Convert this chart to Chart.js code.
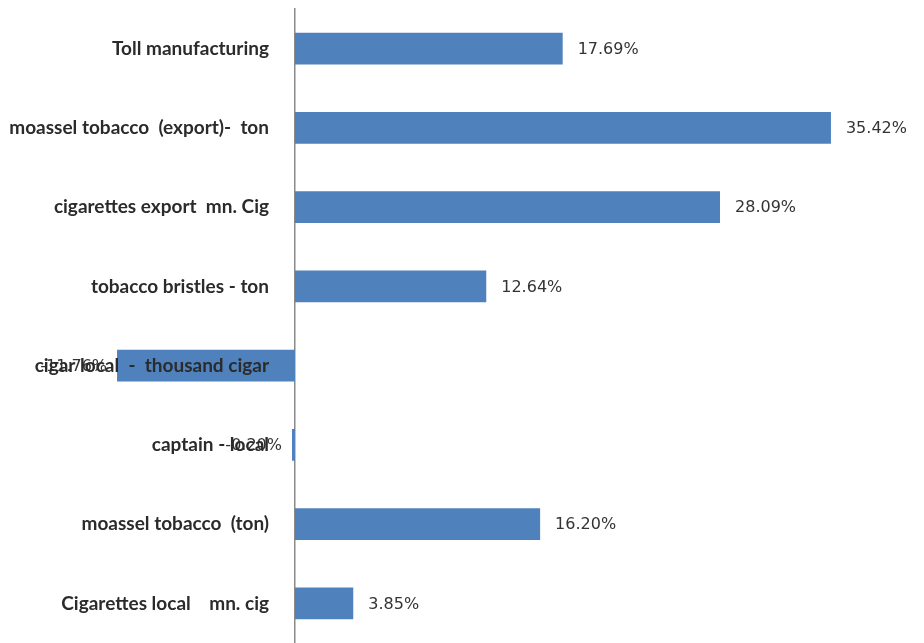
<!DOCTYPE html>
<html>
<head>
<meta charset="utf-8">
<script src="https://cdn.jsdelivr.net/npm/chart.js@4"></script>
<style>
  html, body { margin: 0; padding: 0; background: #fff; }
  #wrap { width: 924px; height: 643px; }
</style>
</head>
<body>
<div id="wrap"><canvas id="visualization" width="924" height="643"></canvas></div>
<script>
// categories, top to bottom
var categories = [
    'Toll manufacturing',
    'moassel tobacco  (export)-  ton',
    'cigarettes export  mn. Cig',
    'tobacco bristles - ton',
    'cigar local  -  thousand cigar',
    'captain - local',
    'moassel tobacco  (ton)',
    'Cigarettes local    mn. cig'
];
// share of each product, percent
var shares = [17.69, 35.42, 28.09, 12.64, -11.76, -0.20, 16.20, 3.85];

// draw the percentage next to each bar end
var valueLabels = {
    id: 'valueLabels',
    afterDatasetsDraw: function(chart) {
        var ctx = chart.ctx;
        var meta = chart.getDatasetMeta(0);
        ctx.save();
        ctx.font = '16px "DejaVu Sans"';
        ctx.fillStyle = '#333';
        ctx.textBaseline = 'middle';
        meta.data.forEach(function(bar, i) {
            var v = shares[i];
            var txt = v.toFixed(2) + '%';
            if (v >= 0) {
                ctx.textAlign = 'left';
                ctx.fillText(txt, bar.x + 15, bar.y + 1);
            } else {
                ctx.textAlign = 'right';
                ctx.fillText(txt, bar.x - 10, bar.y + 1);
            }
        });
        ctx.restore();
    }
};

var ctx = document.getElementById('visualization').getContext('2d');
var myBarChart = new Chart(ctx, {
    type: 'bar',
    data: {
        labels: categories,
        datasets: [{
            data: shares,
            backgroundColor: '#4F81BD',
            borderWidth: 0,
            categoryPercentage: 1,
            barPercentage: 0.4,
            clip: false
        }]
    },
    options: {
        indexAxis: 'y',
        responsive: false,
        animation: false,
        layout: { padding: { top: 9, left: 0, right: 0, bottom: 0 } },
        plugins: {
            legend: { display: false },
            tooltip: { enabled: false }
        },
        scales: {
            x: {
                display: false,
                min: 0,
                max: 41.57
            },
            y: {
                position: 'left',
                afterFit: function(scale) {
                    scale.width = 295;
                    scale.paddingTop = 0;
                    scale.paddingBottom = 0;
                },
                grid: { display: false },
                border: { display: true, color: '#8a8a8a', width: 1.5 },
                ticks: {
                    z: 1,
                    padding: 18,
                    color: '#2b2b2b',
                    font: { family: 'Lato', size: 19, weight: 'bold' }
                }
            }
        }
    },
    plugins: [valueLabels]
});
</script>
</body>
</html>
